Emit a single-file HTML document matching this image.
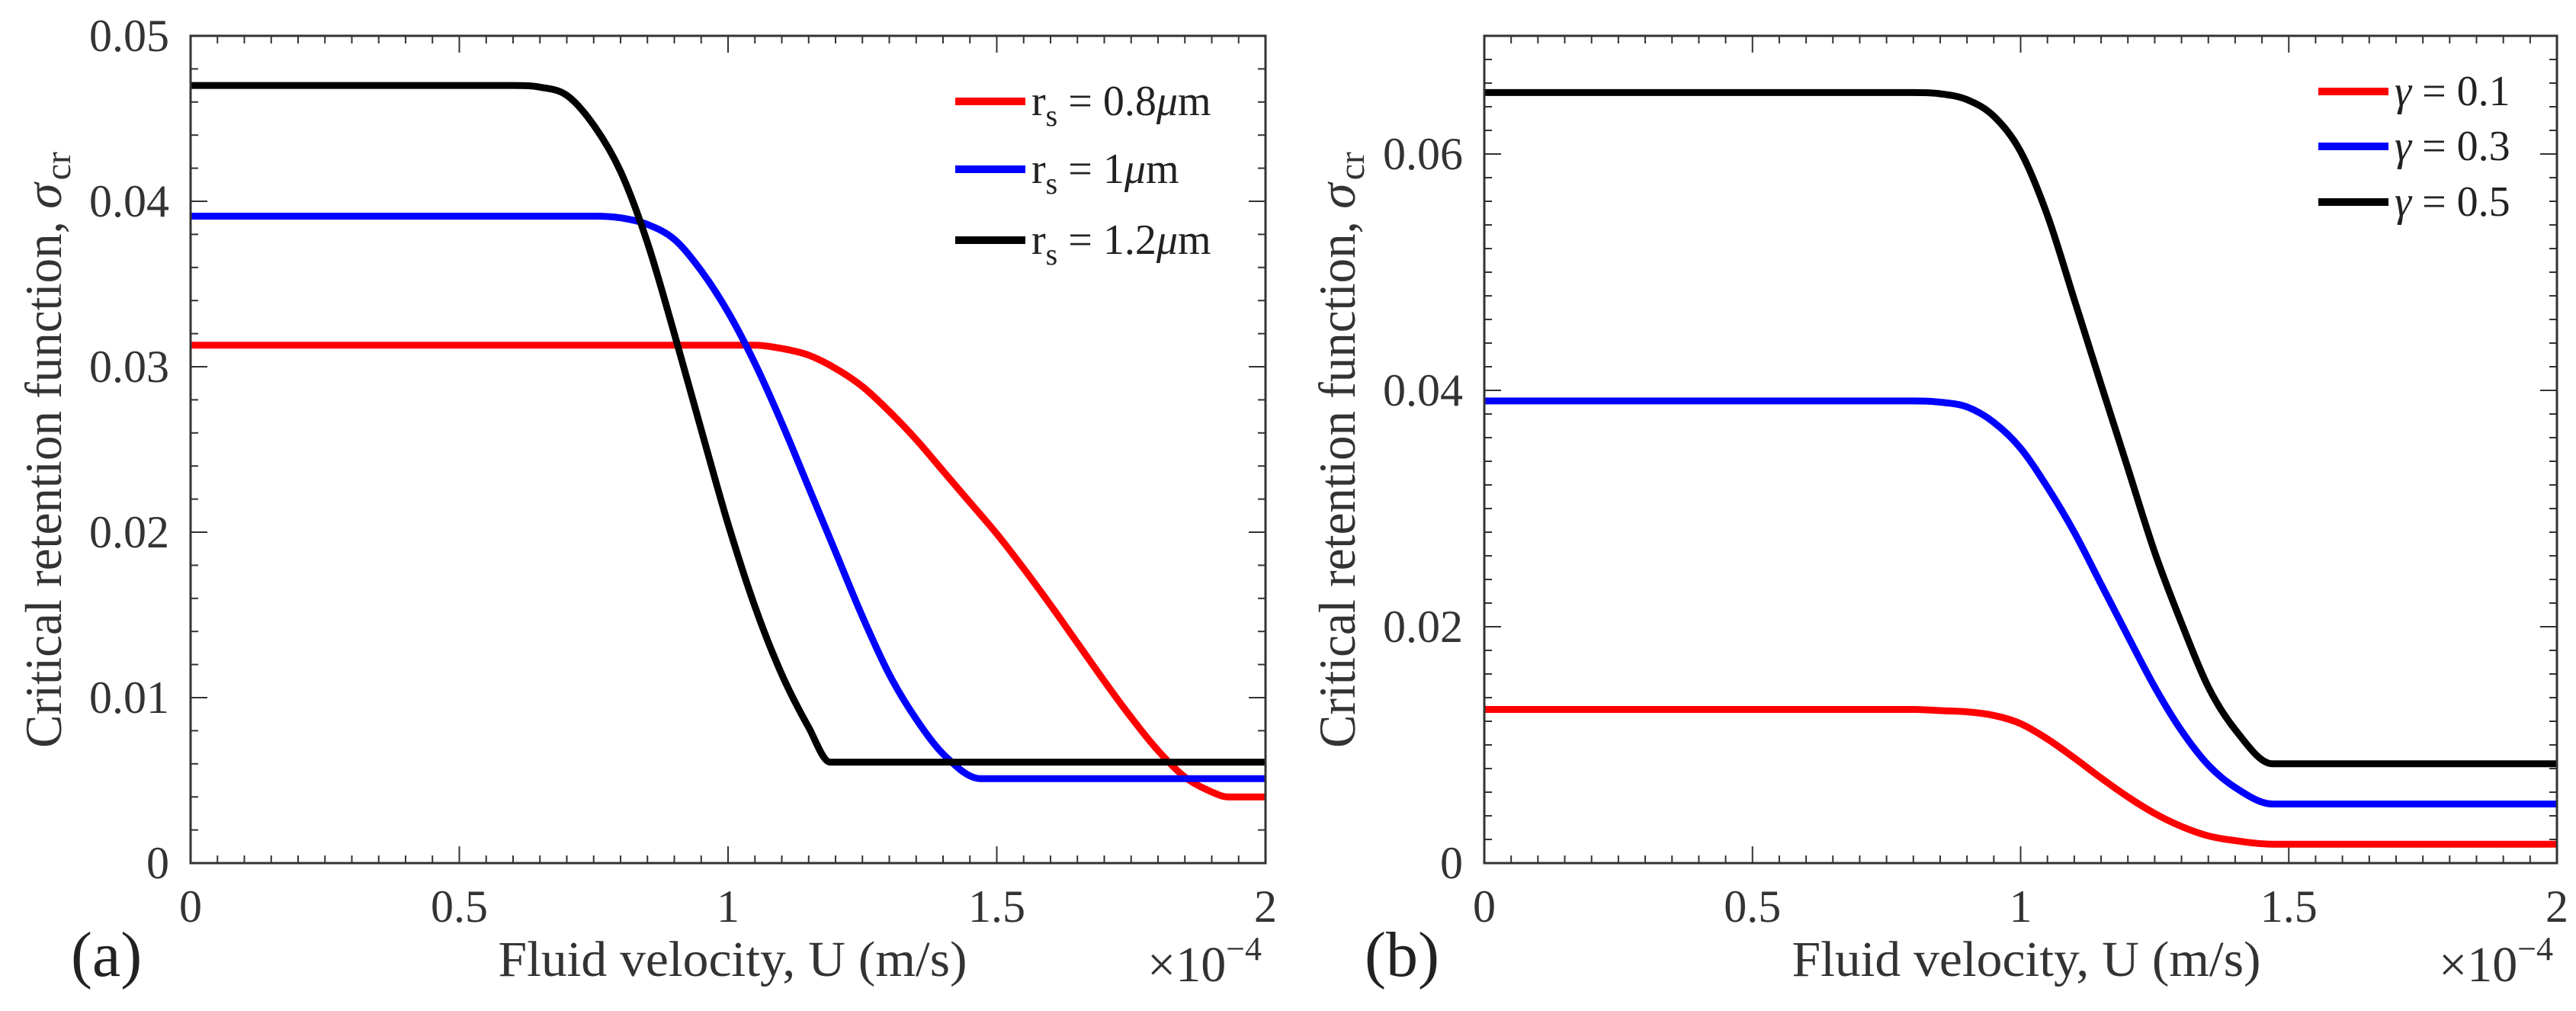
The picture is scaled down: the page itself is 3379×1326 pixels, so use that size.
<!DOCTYPE html>
<html><head><meta charset="utf-8"><style>
html,body{margin:0;padding:0;background:#fff;}
svg{display:block;}
svg text{font-family:"Liberation Serif",serif;}
</style></head><body>
<svg id="fig" width="3379" height="1326" viewBox="0 0 3379 1326" xmlns="http://www.w3.org/2000/svg" font-family="Liberation Serif, serif"></svg>
<script>
const xTicksA=[0,0.5,1,1.5,2];
const xTickLabelsA=["0","0.5","1","1.5","2"];
const yTicksA=[0,0.01,0.02,0.03,0.04,0.05];
const yTickLabelsA=["0","0.01","0.02","0.03","0.04","0.05"];
const xTicksB=[0,0.5,1,1.5,2];
const xTickLabelsB=["0","0.5","1","1.5","2"];
const yTicksB=[0,0.02,0.04,0.06];
const yTickLabelsB=["0","0.02","0.04","0.06"];

const redAx=[0,1.0,1.05,1.1,1.15,1.2,1.25,1.3,1.35,1.4,1.45,1.5,1.55,1.6,1.65,1.7,1.75,1.8,1.85,1.9,1.93,2.0];
const redAy=[0.0313,0.0313,0.0313,0.0311,0.0307,0.0299,0.0288,0.0273,0.0256,0.0237,0.0218,0.0199,0.0178,0.0156,0.0133,0.0110,0.0088,0.0068,0.0052,0.0043,0.0040,0.0040];
const blueAx=[0,0.75,0.8,0.85,0.9,0.95,1.0,1.05,1.1,1.15,1.2,1.25,1.3,1.35,1.4,1.47,2.0];
const blueAy=[0.0391,0.0391,0.0390,0.0386,0.0377,0.0358,0.0333,0.0302,0.0266,0.0227,0.0188,0.0149,0.0114,0.0087,0.0066,0.0051,0.0051];
const blackAx=[0,0.6,0.65,0.7,0.75,0.8,0.85,0.9,0.95,1.0,1.05,1.1,1.15,1.19,2.0];
const blackAy=[0.0470,0.0470,0.0469,0.0464,0.0446,0.0418,0.0375,0.0320,0.0262,0.0205,0.0155,0.0114,0.0082,0.0061,0.0061];

const redBx=[0,0.8,0.85,0.9,0.95,1.0,1.05,1.1,1.15,1.2,1.25,1.3,1.35,1.4,1.47,2.0];
const redBy=[0.0130,0.0130,0.0129,0.0128,0.0125,0.0118,0.0105,0.0089,0.0072,0.0056,0.0042,0.0031,0.0023,0.0019,0.0016,0.0016];
const blueBx=[0,0.8,0.85,0.9,0.95,1.0,1.05,1.1,1.15,1.2,1.25,1.3,1.35,1.4,1.47,2.0];
const blueBy=[0.0391,0.0391,0.0390,0.0386,0.0373,0.0351,0.0318,0.0280,0.0236,0.0192,0.0149,0.0112,0.0083,0.0064,0.0050,0.0050];
const blackBx=[0,0.8,0.85,0.9,0.95,1.0,1.05,1.1,1.15,1.2,1.25,1.3,1.35,1.4,1.47,2.0];
const blackBy=[0.0652,0.0652,0.0651,0.0646,0.0632,0.0602,0.0548,0.0477,0.0405,0.0334,0.0263,0.0203,0.0149,0.0113,0.0084,0.0084];

const NS="http://www.w3.org/2000/svg";
const svg=document.getElementById('fig');
function mk(tag,attrs,parent,text){const e=document.createElementNS(NS,tag);for(const k in attrs)e.setAttribute(k,attrs[k]);if(text!==undefined)e.textContent=text;(parent||svg).appendChild(e);return e;}

function smoothPath(P){
  const n=P.length;if(n<2)return '';
  const d=[],m=[];
  for(let i=0;i<n-1;i++){d.push((P[i+1][1]-P[i][1])/(P[i+1][0]-P[i][0]));}
  m[0]=d[0];m[n-1]=d[n-2];
  for(let i=1;i<n-1;i++){m[i]=(d[i-1]*d[i]<=0)?0:(d[i-1]+d[i])/2;}
  for(let i=0;i<n-1;i++){if(d[i]===0){m[i]=0;m[i+1]=0;continue;}
    const a=m[i]/d[i],b=m[i+1]/d[i],s=a*a+b*b;if(s>9){const t=3/Math.sqrt(s);m[i]=t*a*d[i];m[i+1]=t*b*d[i];}}
  let s='M'+P[0][0].toFixed(1)+','+P[0][1].toFixed(1);
  for(let i=0;i<n-1;i++){const h=(P[i+1][0]-P[i][0])/3;
    s+=' C'+(P[i][0]+h).toFixed(1)+','+(P[i][1]+m[i]*h).toFixed(1)+' '+(P[i+1][0]-h).toFixed(1)+','+(P[i+1][1]-m[i+1]*h).toFixed(1)+' '+P[i+1][0].toFixed(1)+','+P[i+1][1].toFixed(1);}
  return s;
}

function panel(cfg){
  const g=mk('g',{});
  
  
  const L=cfg.L,R=cfg.R,T=cfg.T,B=cfg.B;
  const sx=v=>L+(v-0)/(2-0)*(R-L);
  const sy=v=>B-(v/cfg.ymax)*(B-T);
  for(let i=0;i<=40;i++){const x=sx(i*0.05);const major=(i%10==0);
    const t1=mk('line',{x1:x,x2:x,y1:B,y2:B-(major?22:10),stroke:'#333','stroke-width':2},g);
    
    const t2=mk('line',{x1:x,x2:x,y1:T,y2:T+(major?22:10),stroke:'#333','stroke-width':2},g);
    }
  const nMinor=Math.round(cfg.ymax/cfg.yminor);
  for(let i=0;i<=nMinor;i++){const v=i*cfg.yminor;const y=sy(v);
    const major=cfg.yTicks.some(t=>Math.abs(t-v)<1e-9);
    const t1=mk('line',{x1:L,x2:L+(major?22:10),y1:y,y2:y,stroke:'#333','stroke-width':2},g);
    
    const t2=mk('line',{x1:R,x2:R-(major?22:10),y1:y,y2:y,stroke:'#333','stroke-width':2},g);
    }
  cfg.xTicks.forEach((v,i)=>{const t=mk('text',{x:sx(v),y:B+77,'font-size':60,'text-anchor':'middle',fill:'#333'},g,cfg.xLabels[i]);
    });
  cfg.yTicks.forEach((v,i)=>{const t=mk('text',{x:L-28,y:sy(v)+20,'font-size':60,'text-anchor':'end',fill:'#333'},g,cfg.yLabels[i]);
    });
  const cols={red:'#ff0000',blue:'#0000ff',black:'#000000'};
  cfg.series.forEach(s=>{
    const P=s.x.map((xv,i)=>[sx(xv),sy(s.y[i])]);
    const p=mk('path',{d:smoothPath(P),fill:'none',stroke:cols[s.c],'stroke-width':9,'stroke-linejoin':'round'},g);
    
  });
  const box=mk('rect',{x:L,y:T,width:R-L,height:B-T,fill:'none',stroke:'#333','stroke-width':3},g);
  
  cfg.series.forEach((s,i)=>{const y=cfg.legY[i];
    const le=mk('g',{},g);
    
    mk('line',{x1:cfg.legX,x2:cfg.legX+92,y1:y,y2:y,stroke:cols[s.c],'stroke-width':10},le);
    const t=mk('text',{x:cfg.legX+100,y:y+18,'font-size':56,fill:'#222'},le);
    t.innerHTML=s.label;
  });
  const xl=mk('text',{x:L+711,y:1280,'font-size':66,'text-anchor':'middle',fill:'#333',textLength:615,lengthAdjust:'spacingAndGlyphs'},g,'Fluid velocity, U (m/s)');
  
  const ex=mk('text',{x:R-155,y:1287,'font-size':66,fill:'#333'},g);
  ex.innerHTML='×10<tspan dy="-28" font-size="44">−4</tspan>';
  
  const pl=mk('text',{x:L-157,y:1280,'font-size':84,fill:'#222'},g,cfg.panelLabel);
  
  const yl=mk('text',{x:0,y:0,'font-size':68,'text-anchor':'middle',fill:'#333',transform:'translate('+cfg.ylabX+',590) rotate(-90)'},g);
  yl.innerHTML='<tspan textLength="707" lengthAdjust="spacingAndGlyphs">Critical retention function, </tspan><tspan font-style="italic">σ</tspan><tspan dy="-2" font-size="48" dx="4" baseline-shift="-14">cr</tspan>';
  
}

panel({name:'panel-a',L:250,R:1660,T:47,B:1132,ymax:0.05,yminor:0.002,
  xTicks:xTicksA,xLabels:xTickLabelsA,yTicks:yTicksA,yLabels:yTickLabelsA,
  legX:1253,legY:[133,222,315],panelLabel:'(a)',ylabX:80,
  series:[{key:'rs-0.8',c:'red',x:redAx,y:redAy,label:'r<tspan dy="14" font-size="40">s</tspan><tspan dy="-14"> = 0.8</tspan><tspan font-style="italic">μ</tspan>m'},
          {key:'rs-1',c:'blue',x:blueAx,y:blueAy,label:'r<tspan dy="14" font-size="40">s</tspan><tspan dy="-14"> = 1</tspan><tspan font-style="italic">μ</tspan>m'},
          {key:'rs-1.2',c:'black',x:blackAx,y:blackAy,label:'r<tspan dy="14" font-size="40">s</tspan><tspan dy="-14"> = 1.2</tspan><tspan font-style="italic">μ</tspan>m'}]});
panel({name:'panel-b',L:1947,R:3354,T:47,B:1132,ymax:0.07,yminor:0.002,
  xTicks:xTicksB,xLabels:xTickLabelsB,yTicks:yTicksB,yLabels:yTickLabelsB,
  legX:3041,legY:[120,192,265],panelLabel:'(b)',ylabX:1777,
  series:[{key:'gamma-0.1',c:'red',x:redBx,y:redBy,label:'<tspan font-style="italic">γ</tspan> = 0.1'},
          {key:'gamma-0.3',c:'blue',x:blueBx,y:blueBy,label:'<tspan font-style="italic">γ</tspan> = 0.3'},
          {key:'gamma-0.5',c:'black',x:blackBx,y:blackBy,label:'<tspan font-style="italic">γ</tspan> = 0.5'}]});
</script>
</body></html>
